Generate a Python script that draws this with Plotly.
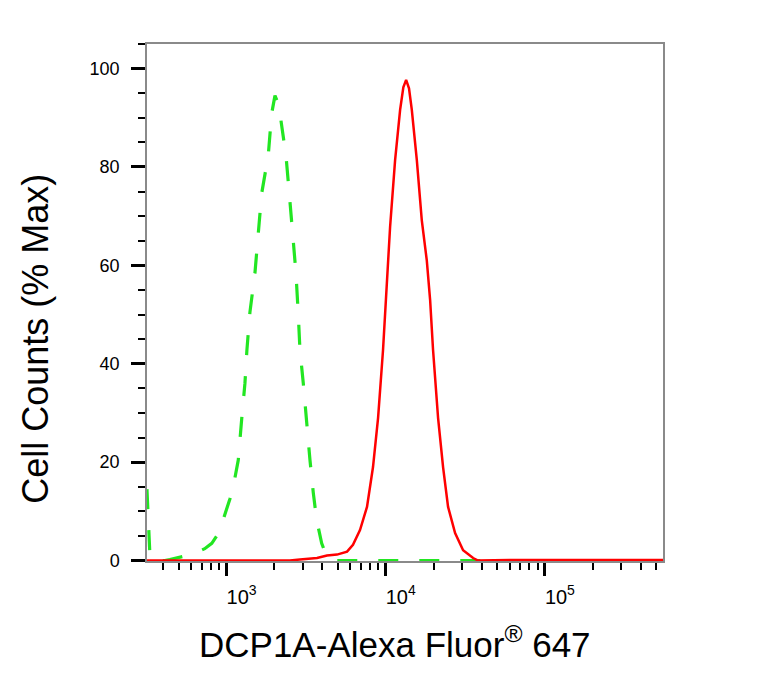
import plotly.graph_objects as go

# Isotype control (green, dashed) - fluorescence intensity vs % max
green_x = [316, 322, 330, 345, 410, 440, 508, 562, 631, 729, 807, 868, 934, 1000,
           1049, 1101, 1184, 1243, 1304, 1342, 1402, 1507, 1582, 1661, 1828, 1920,
           2014, 2104, 2164, 2360, 2477, 2603, 2729, 2820, 2891, 3034, 3186, 3342,
           3508, 3683, 3958, 4256, 4600, 8000, 20000, 60000, 200000, 557000]
green_y = [14.5, 7.0, 1.0, 0.0, 0.0, 0.2, 0.6, 1.0, 1.5, 2.4, 3.5, 5.0, 7.5, 10.3,
           12.5, 15.0, 20.4, 28.6, 36.0, 42.8, 50.5, 58.4, 66.5, 74.6, 82.4, 90.9,
           94.5, 93.0, 90.9, 82.4, 74.6, 66.5, 58.4, 50.2, 42.8, 36.0, 27.2, 20.4,
           13.7, 8.2, 3.5, 0.8, 0.0, 0.0, 0.0, 0.0, 0.0, 0.0]

# DCP1A stained sample (red, solid)
red_x = [316, 1000, 2500, 2891, 3700, 4273, 4942, 5714, 6225, 6890, 7625, 8318,
         8951, 9616, 10050, 10650, 11450, 12310, 12900, 13430, 14000, 14580, 15680,
         16840, 18110, 19000, 19830, 21320, 22920, 24640, 27270, 30620, 35400,
         38030, 60000, 100000, 200000, 557000]
red_y = [0.0, 0.0, 0.0, 0.2, 0.5, 1.0, 1.2, 1.8, 3.2, 6.2, 10.9, 19.0,
         29.0, 42.8, 53.0, 67.8, 81.4, 91.6, 96.2, 97.7, 96.0, 91.6, 81.4,
         69.2, 61.0, 53.0, 42.8, 29.0, 19.0, 10.9, 5.6, 2.1, 0.5,
         0.0, 0.1, 0.1, 0.1, 0.1]

x_major = [1e3, 1e4, 1e5]
x_major_text = ["10<sup>3</sup>", "10<sup>4</sup>", "10<sup>5</sup>"]
x_minor = [400, 500, 600, 700, 800, 900,
           2000, 3000, 4000, 5000, 6000, 7000, 8000, 9000,
           20000, 30000, 40000, 50000, 60000, 70000, 80000, 90000,
           200000, 300000, 400000, 500000]
y_major = [0, 20, 40, 60, 80, 100]

x_title = "DCP1A-Alexa Fluor<sup>®</sup> 647"
y_title = "Cell Counts (% Max)"

tick_font = "Liberation Sans, Arial"

fig = go.Figure()
fig.add_trace(go.Scatter(x=green_x, y=green_y, mode="lines",
                         line=dict(color="#22e622", width=3.2, dash="20px,21px")))
fig.add_trace(go.Scatter(x=red_x, y=red_y, mode="lines",
                         line=dict(color="#ff0000", width=2.5)))

fig.update_xaxes(type="log", range=[2.5, 5.742],
                 tickmode="array", tickvals=x_major, ticktext=x_major_text,
                 ticks="outside", ticklen=13, tickwidth=3, tickcolor="black",
                 tickfont=dict(family=tick_font, size=20, color="black"),
                 ticklabelshift=15, ticklabelstandoff=4,
                 minor=dict(tickmode="array", tickvals=x_minor, ticks="outside",
                            ticklen=7, tickwidth=1.5, tickcolor="black"),
                 showline=True, linecolor="#8a8a8a", linewidth=1.5, mirror=True,
                 showgrid=False, zeroline=False)
fig.update_yaxes(range=[-0.1, 105],
                 tickmode="array", tickvals=y_major,
                 ticks="outside", ticklen=14, tickwidth=2.5, tickcolor="black",
                 tickfont=dict(family=tick_font, size=18, color="black"),
                 ticklabelstandoff=8,
                 minor=dict(dtick=5, ticks="outside", ticklen=7, tickwidth=1.5,
                            tickcolor="black"),
                 showline=True, linecolor="#8a8a8a", linewidth=1.5, mirror=True,
                 showgrid=False, zeroline=False)

# axis titles as annotations (they sit off-centre in the original)
fig.add_annotation(text=x_title, xref="paper", yref="paper", x=0.4815, y=-0.11,
                   xanchor="center", yanchor="top", showarrow=False,
                   font=dict(family="Liberation Sans, Arial", size=35, color="black"))
fig.add_annotation(text=y_title, xref="paper", yref="paper", x=-0.215, y=0.43,
                   xanchor="center", yanchor="middle", textangle=-90, showarrow=False,
                   font=dict(family="Liberation Sans, Arial", size=36, color="black"))

fig.update_layout(width=775, height=677,
                  margin=dict(l=139, r=120, t=36, b=124),
                  plot_bgcolor="white", paper_bgcolor="white",
                  showlegend=False)

fig.write_html("out.html")
